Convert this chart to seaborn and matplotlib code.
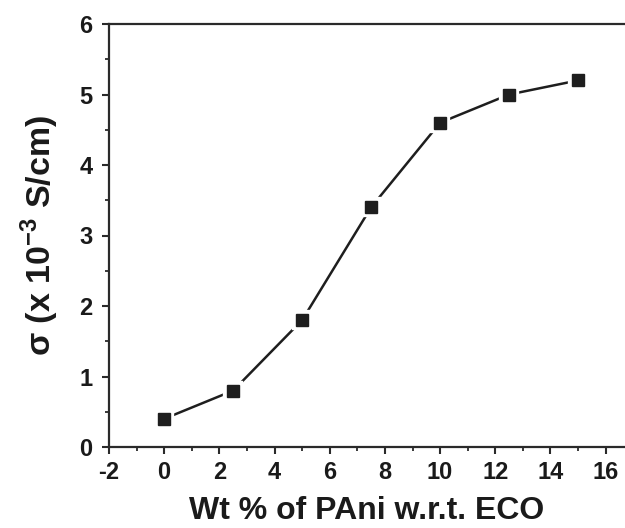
import matplotlib
matplotlib.use("Agg")
import matplotlib.pyplot as plt
import seaborn as sns
import pandas as pd
from matplotlib.ticker import MultipleLocator

wt_percent = [0, 2.5, 5, 7.5, 10, 12.5, 15]
sigma = [0.4, 0.8, 1.8, 3.4, 4.6, 5.0, 5.2]
x_ticks = [-2, 0, 2, 4, 6, 8, 10, 12, 14, 16]
y_ticks = [0, 1, 2, 3, 4, 5, 6]

sns.set_style("white")
plt.rcParams['font.family'] = ['Liberation Sans', 'DejaVu Sans']
plt.rcParams['axes.unicode_minus'] = False
plt.rcParams['mathtext.fontset'] = 'custom'
plt.rcParams['mathtext.rm'] = 'Liberation Sans:bold'
plt.rcParams['mathtext.bf'] = 'Liberation Sans:bold'

df = pd.DataFrame({"wt": wt_percent, "sigma": sigma})

fig = plt.figure(figsize=(6.25, 5.28), dpi=100)
ax = fig.add_axes([109/625, 1-447/528, 1-109/625, (447-24)/528])

col = "#1e1e1e"
sns.lineplot(data=df, x="wt", y="sigma", ax=ax, color=col, linewidth=1.8,
             marker="s", markersize=9, markerfacecolor="white",
             markeredgecolor="white", markeredgewidth=6)
ax.plot(df["wt"], df["sigma"], linestyle="none", marker="s", markersize=8.5,
        color=col, markeredgecolor=col)

ax.set_xlim(-2, 16.7)
ax.set_ylim(0, 6)
ax.set_xticks(x_ticks)
ax.set_yticks(y_ticks)
ax.xaxis.set_minor_locator(MultipleLocator(1))
ax.yaxis.set_minor_locator(MultipleLocator(0.5))

for s in ["left", "top", "bottom"]:
    ax.spines[s].set_linewidth(1.6)
    ax.spines[s].set_color("#2a2a2a")
ax.spines["right"].set_visible(False)

ax.tick_params(axis="both", which="both", bottom=True, left=True, top=False, right=False)
ax.tick_params(axis="both", which="major", direction="out", length=5, width=1.5,
               color="#2a2a2a", labelsize=17)
ax.tick_params(axis="x", which="major", pad=5)
ax.tick_params(axis="y", which="major", pad=7)
ax.tick_params(axis="both", which="minor", direction="out", length=3, width=1.3,
               color="#2a2a2a")
for lab in ax.get_xticklabels() + ax.get_yticklabels():
    lab.set_fontweight("bold")
    lab.set_color("#1a1a1a")

ax.set_xlabel("Wt % of PAni w.r.t. ECO", fontsize=23, fontweight="bold",
              color="#1a1a1a", labelpad=9)
ax.set_ylabel(r"σ (x 10$^{\mathbf{-3}}$ S/cm)", fontsize=24.5, fontweight="bold",
              color="#1a1a1a", labelpad=13)

fig.savefig("out.png", dpi=100)
